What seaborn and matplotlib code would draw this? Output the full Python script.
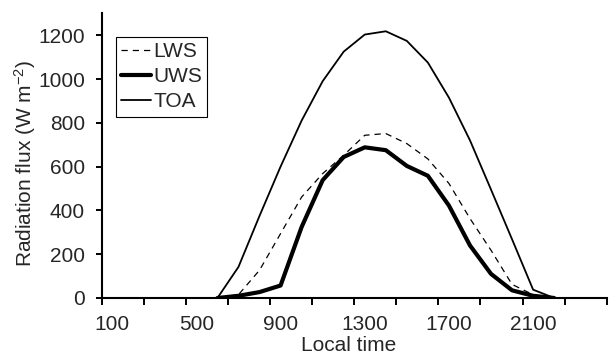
import numpy as np
import pandas as pd
import matplotlib
matplotlib.use("Agg")
import matplotlib.pyplot as plt
import seaborn as sns

# ---- data ----
local_time = [600, 700, 800, 900, 1000, 1100, 1200, 1300, 1400, 1500, 1600,
              1700, 1800, 1900, 2000, 2100, 2200]
lws = [0, 15, 127, 294, 461, 568, 652, 743, 751, 705, 635, 523, 363, 218, 62, 15, 0]
uws = [0, 10, 27, 57, 324, 538, 644, 688, 675, 603, 558, 422, 240, 110, 35, 10, 0]
toa = [0, 142, 375, 600, 810, 990, 1125, 1203, 1218, 1174, 1075, 915, 720, 495, 268, 38, 0]
xtick_labels = ["100", "500", "900", "1300", "1700", "2100"]
xtick_hours = [100, 500, 900, 1300, 1700, 2100]

sns.set_style("ticks")
plt.rcParams['font.family'] = ['Liberation Sans', 'DejaVu Sans']
plt.rcParams['mathtext.fontset'] = 'custom'
plt.rcParams['mathtext.rm'] = 'Liberation Sans'
plt.rcParams['mathtext.it'] = 'Liberation Sans'

FS = 15

fig = plt.figure(figsize=(6.10, 3.54), dpi=100)
ax = fig.add_axes([0.1667, 0.1582, 0.8280, 0.8042])

df = pd.DataFrame({"x": np.array(local_time) / 100.0,
                   "LWS": lws, "UWS": uws, "TOA": toa})

sns.lineplot(data=df, x="x", y="LWS", ax=ax, color="black", linewidth=0.9,
             label="LWS")
sns.lineplot(data=df, x="x", y="UWS", ax=ax, color="black", linewidth=3.0,
             label="UWS")
sns.lineplot(data=df, x="x", y="TOA", ax=ax, color="black", linewidth=1.3,
             label="TOA")
ax.lines[0].set_linestyle((0, (5, 4)))

ax.set_xlim(0.5, 24.5)
ax.set_ylim(0, 1300)

# major ticks at category boundaries (every 2 categories), labels centered
ax.set_xticks(np.arange(0.5, 24.6, 2.0))
ax.set_xticklabels([])
ax.set_xticks(np.array(xtick_hours) / 100.0, minor=True)
ax.set_xticklabels(xtick_labels, minor=True)
ax.tick_params(axis='x', which='minor', length=0, pad=12, labelsize=FS)
ax.tick_params(axis='x', which='major', length=5, width=1.4, direction='out', color='black')

ax.set_yticks([0, 200, 400, 600, 800, 1000, 1200])
ax.tick_params(axis='y', length=4, width=1.4, direction='out', pad=8, labelsize=FS,
               color='black')

for s in ['top', 'right']:
    ax.spines[s].set_visible(False)
for s in ['left', 'bottom']:
    ax.spines[s].set_linewidth(1.5)
    ax.spines[s].set_color('black')

ax.set_xlabel("Local time", fontsize=FS)
ax.xaxis.set_label_coords(0.4897, -0.132)
ax.set_ylabel("Radiation flux (W m$^{-2}$)", fontsize=FS)
ax.yaxis.set_label_coords(-0.127, 0.474)

leg = ax.legend(loc='upper left', bbox_to_anchor=(0.0277, 0.918), fontsize=FS,
                frameon=True, fancybox=False, framealpha=1, edgecolor='black',
                handlelength=1.45, handletextpad=0.1, borderpad=0.25,
                labelspacing=0.3, borderaxespad=0)
leg.get_frame().set_linewidth(0.8)

fig.savefig("out.png", dpi=100)
